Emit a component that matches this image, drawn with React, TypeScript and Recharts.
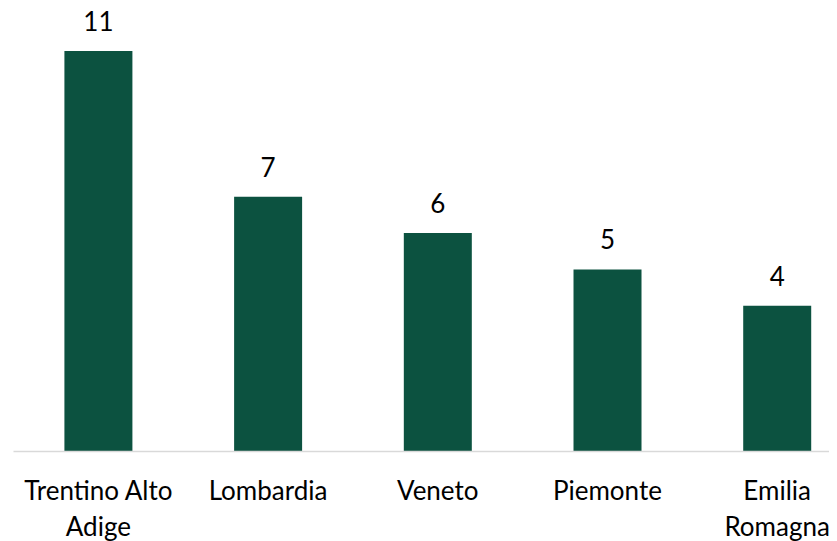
import React from "react";
import { BarChart, Bar, XAxis, YAxis, LabelList } from "recharts";

const categories = ["Trentino Alto Adige", "Lombardia", "Veneto", "Piemonte", "Emilia Romagna"];
const tickLabelLines = [["Trentino Alto", "Adige"], ["Lombardia"], ["Veneto"], ["Piemonte"], ["Emilia", "Romagna"]];
const values = [11, 7, 6, 5, 4];

const data = categories.map((c, i) => ({ name: c, value: values[i] }));

const FONT = "Lato, 'Noto Sans', sans-serif";

const CategoryTick = (props: any) => {
  const { x, y, index } = props;
  const lines = tickLabelLines[index] || [String(props.payload.value)];
  return (
    <text x={x} y={y} textAnchor="middle" fill="#000" fontFamily={FONT} fontSize={26}>
      {lines.map((l: string, i: number) => (
        <tspan key={i} x={x} y={y + 48 + i * 36}>
          {l}
        </tspan>
      ))}
    </text>
  );
};

export default function App() {
  return (
    <div style={{ width: 829, height: 533, overflowX: "clip", overflowY: "visible" } as any}>
      <BarChart
        width={854}
        height={533}
        data={data}
        margin={{ top: 43, right: 0, bottom: 29.5, left: 5.5 }}
        barCategoryGap="30%"
        style={{ overflow: "visible" }}
      >
        <XAxis
          dataKey="name"
          height={60}
          tickLine={false}
          tickSize={0}
          tickMargin={0}
          axisLine={{ stroke: "#d9d9d9", strokeWidth: 1.5 }}
          tick={<CategoryTick />}
          interval={0}
        />
        <YAxis hide domain={[0, 11]} />
        <Bar dataKey="value" fill="#0C5240" isAnimationActive={false}>
          <LabelList
            dataKey="value"
            position="top"
            offset={20}
            fill="#000"
            fontFamily={FONT}
            fontSize={26}
          />
        </Bar>
      </BarChart>
    </div>
  );
}
